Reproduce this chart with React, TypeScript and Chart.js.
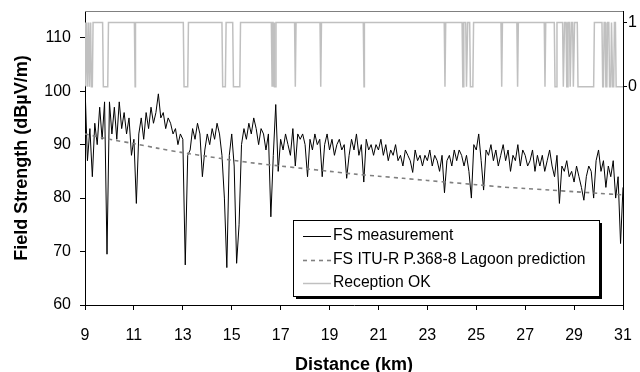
import React, { useEffect, useRef } from 'react';
import { Chart, registerables } from 'chart.js';

Chart.register(...registerables);

// ---- data ----
const DIST_START_KM = 9;
const DIST_STEP_KM = 0.1;

// FS measurement (dBµV/m), sampled every 0.1 km from 9 km to 31 km
const FS_MEASUREMENT = [
  101, 87, 93, 84, 94, 90, 97, 91, 98, 69.5,
  98, 92, 97, 91, 98, 93, 96, 92, 95, 88,
  91, 79, 92, 95, 91, 96, 93, 97, 94, 96,
  99.5, 95, 96, 93, 95, 94, 92, 93, 90, 92,
  91, 67.5, 88, 89, 93, 91, 94, 92, 84, 89,
  92, 90, 93, 91, 94, 92, 88, 80, 67, 88,
  92, 86, 67.8, 75, 90, 93, 91, 94, 92, 95,
  93, 90, 93, 92, 89, 92, 76.5, 88, 97.5, 85,
  91, 89, 92, 90, 88, 93, 86, 92, 91, 92,
  90, 84, 91, 89, 92, 90, 91, 84, 90, 92,
  89, 91, 88, 90, 91, 89, 90, 83.7, 88, 91,
  89, 92, 88, 90, 83, 91, 89, 90, 88, 90,
  89, 91, 88, 90, 87, 89, 88, 90, 87, 88,
  86, 89, 88, 87, 84.8, 89, 87, 88, 86, 88,
  87, 89, 86, 88, 87, 85, 88, 81, 87, 88,
  86, 89, 87, 89, 88, 86, 88, 85, 80, 90,
  89, 92, 87, 81.5, 89, 88, 90, 87, 89, 86,
  88, 90, 87, 89, 85, 88, 87, 90, 86, 89,
  88, 86, 87, 89, 85, 88, 86, 88, 85, 87,
  89, 86, 84, 88, 79, 86, 85, 87, 84, 85,
  83, 86, 84, 82, 79.6, 84, 86, 85, 80, 87,
  89, 85, 87, 82, 86, 84, 87, 80, 84, 71.5,
  82,
];

// ITU-R P.368-8 Lagoon prediction
const PRED_KM = [9, 10, 11, 12, 13, 14, 15, 16, 17, 18, 19, 20, 21, 22, 23, 24, 25, 26, 27, 28, 29, 30, 31];
const PRED_FS = [92, 91, 90.2, 89.3, 88.5, 87.8, 87.1, 86.5, 86, 85.5, 85, 84.5, 84.1, 83.7, 83.3, 82.9, 82.5, 82.1, 81.8, 81.5, 81.2, 80.9, 80.6];

// Reception OK: 1 everywhere except these drop-outs (km start, km end of the 0 level)
const RECEPTION_DROPOUTS: [number, number][] = [
  [9.02, 9.04], [9.1, 9.12], [9.18, 9.2], [9.26, 9.3],
  [9.75, 9.93], [11.05, 11.05], [13.05, 13.2],
  [14.63, 14.74], [15.07, 15.33],
  [16.65, 16.66], [16.7, 16.71], [16.76, 16.78],
  [17.6, 17.6], [18.64, 18.64], [20.41, 20.41],
  [23.72, 23.72], [24.45, 24.46], [24.6, 24.62], [24.76, 24.86],
  [26.04, 26.04], [26.69, 26.69], [27.81, 27.81],
  [28.22, 28.27], [28.56, 28.58], [28.7, 28.72], [28.84, 28.86], [28.97, 28.99],
  [29.16, 29.8],
  [30.17, 30.2], [30.3, 30.34], [30.45, 30.5], [30.58, 30.62], [30.72, 31.0],
];
const RECEPTION_START = 1;
const RECEPTION_RAMP_KM = 0.03;

const X_TICKS = [9, 11, 13, 15, 17, 19, 21, 23, 25, 27, 29, 31];
const Y_TICKS = [60, 70, 80, 90, 100, 110];
const Y2_TICKS = [0, 1];

const FONT = "'Liberation Sans', Arial, Helvetica, sans-serif";

function buildMeasurement() {
  return FS_MEASUREMENT.map((v, i) => ({ x: DIST_START_KM + i * DIST_STEP_KM, y: v }));
}
function buildPrediction() {
  return PRED_KM.map((k, i) => ({ x: k, y: PRED_FS[i] }));
}
function buildReception() {
  const pts: { x: number; y: number }[] = [{ x: 9, y: RECEPTION_START }];
  for (const [s, e] of RECEPTION_DROPOUTS) {
    pts.push({ x: Math.max(9, s - RECEPTION_RAMP_KM), y: 1 });
    pts.push({ x: s, y: 0 });
    pts.push({ x: e, y: 0 });
    if (e + RECEPTION_RAMP_KM <= 31) pts.push({ x: e + RECEPTION_RAMP_KM, y: 1 });
  }
  const last = pts[pts.length - 1];
  if (last.x < 31) pts.push({ x: 31, y: last.y });
  return pts;
}

const frameAndLegend = {
  id: 'frameAndLegend',
  afterDraw(chart: any) {
    const { ctx, chartArea } = chart;
    ctx.save();
    // top frame line
    ctx.strokeStyle = '#808080';
    ctx.lineWidth = 1;
    ctx.beginPath();
    ctx.moveTo(chartArea.left, chartArea.top + 0.5);
    ctx.lineTo(chartArea.right, chartArea.top + 0.5);
    ctx.stroke();

    // legend box
    const bx = 293, by = 220, bw = 306, bh = 76;
    ctx.fillStyle = '#000';
    ctx.fillRect(bx + 3, by + 3, bw, bh);
    ctx.fillStyle = '#fff';
    ctx.fillRect(bx, by, bw, bh);
    ctx.strokeStyle = '#000';
    ctx.lineWidth = 1;
    ctx.strokeRect(bx + 0.5, by + 0.5, bw, bh);

    const rows = [236, 259.5, 283];
    chart.data.datasets.forEach((ds: any, i: number) => {
      const y = rows[i];
      ctx.strokeStyle = ds.borderColor;
      ctx.lineWidth = ds.borderWidth;
      ctx.setLineDash(ds.borderDash || []);
      ctx.beginPath();
      ctx.moveTo(303, Math.round(y) + 0.5);
      ctx.lineTo(331, Math.round(y) + 0.5);
      ctx.stroke();
      ctx.setLineDash([]);
      ctx.fillStyle = '#000';
      ctx.font = `15.7px ${FONT}`;
      ctx.textBaseline = 'middle';
      ctx.textAlign = 'left';
      ctx.fillText(ds.label, 333, y);
    });
    ctx.restore();
  },
};

export default function App() {
  const ref = useRef<HTMLCanvasElement | null>(null);
  useEffect(() => {
    if (!ref.current) return;
    Chart.defaults.font.family = FONT;
    Chart.defaults.color = '#000';
    const chart = new Chart(ref.current, {
      type: 'line',
      data: {
        datasets: [
          {
            label: 'FS measurement',
            data: buildMeasurement(),
            borderColor: '#000000',
            borderWidth: 1,
            pointRadius: 0,
            tension: 0,
            yAxisID: 'y',
            order: 2,
          },
          {
            label: 'FS ITU-R P.368-8 Lagoon prediction',
            data: buildPrediction(),
            borderColor: '#808080',
            borderWidth: 1.6,
            borderDash: [4, 4],
            pointRadius: 0,
            tension: 0.3,
            yAxisID: 'y',
            order: 1,
          },
          {
            label: 'Reception OK',
            data: buildReception(),
            borderColor: '#c0c0c0',
            borderWidth: 1.5,
            pointRadius: 0,
            tension: 0,
            yAxisID: 'y2',
            order: 3,
          },
        ],
      },
      options: {
        responsive: false,
        animation: false,
        devicePixelRatio: 1,
        layout: { padding: { top: 11, left: 0, right: 0, bottom: 0 } },
        plugins: { legend: { display: false }, tooltip: { enabled: false } },
        scales: {
          x: {
            type: 'linear',
            min: 9,
            max: 31,
            afterBuildTicks: (s: any) => { s.ticks = X_TICKS.map((v) => ({ value: v })); },
            afterFit: (s: any) => { s.height = 67; s.paddingLeft = 0; s.paddingRight = 0; },
            ticks: { padding: 16, font: { size: 16 }, color: '#000', maxRotation: 0, autoSkip: false },
            grid: { display: true, drawOnChartArea: false, drawTicks: true, tickLength: 5, color: '#000' },
            border: { display: true, color: '#000', width: 1 },
            title: { display: true, text: 'Distance (km)', font: { size: 18, weight: 'bold' }, color: '#000', padding: { top: 0, bottom: -4 } },
          },
          y: {
            type: 'linear',
            position: 'left',
            min: 60,
            max: 115,
            afterBuildTicks: (s: any) => { s.ticks = Y_TICKS.map((v) => ({ value: v })); },
            afterFit: (s: any) => { s.width = 85; s.paddingTop = 0; s.paddingBottom = 0; },
            ticks: { padding: 9, font: { size: 16 }, color: '#000' },
            grid: { display: true, drawOnChartArea: false, drawTicks: true, tickLength: 5, color: '#000' },
            border: { display: true, color: '#000', width: 1 },
            title: { display: true, text: 'Field Strength (dBµV/m)', font: { size: 18, weight: 'bold' }, color: '#000', padding: { top: 11, bottom: 0 } },
          },
          y2: {
            type: 'linear',
            position: 'right',
            min: -3.4,
            max: 1.18,
            afterBuildTicks: (s: any) => { s.ticks = Y2_TICKS.map((v) => ({ value: v })); },
            afterFit: (s: any) => { s.width = 17; s.paddingTop = 0; s.paddingBottom = 0; },
            ticks: { padding: 1, font: { size: 16 }, color: '#000' },
            grid: { display: true, drawOnChartArea: false, drawTicks: true, tickLength: 4, color: '#000' },
            border: { display: true, color: '#000', width: 1 },
          },
        },
      },
      plugins: [frameAndLegend],
    } as any);
    return () => chart.destroy();
  }, []);
  return (
    <div style={{ position: 'absolute', left: 0, top: 0, width: 640, height: 372, background: '#fff' }}>
      <canvas ref={ref} width={640} height={372} style={{ display: 'block' }} />
    </div>
  );
}
